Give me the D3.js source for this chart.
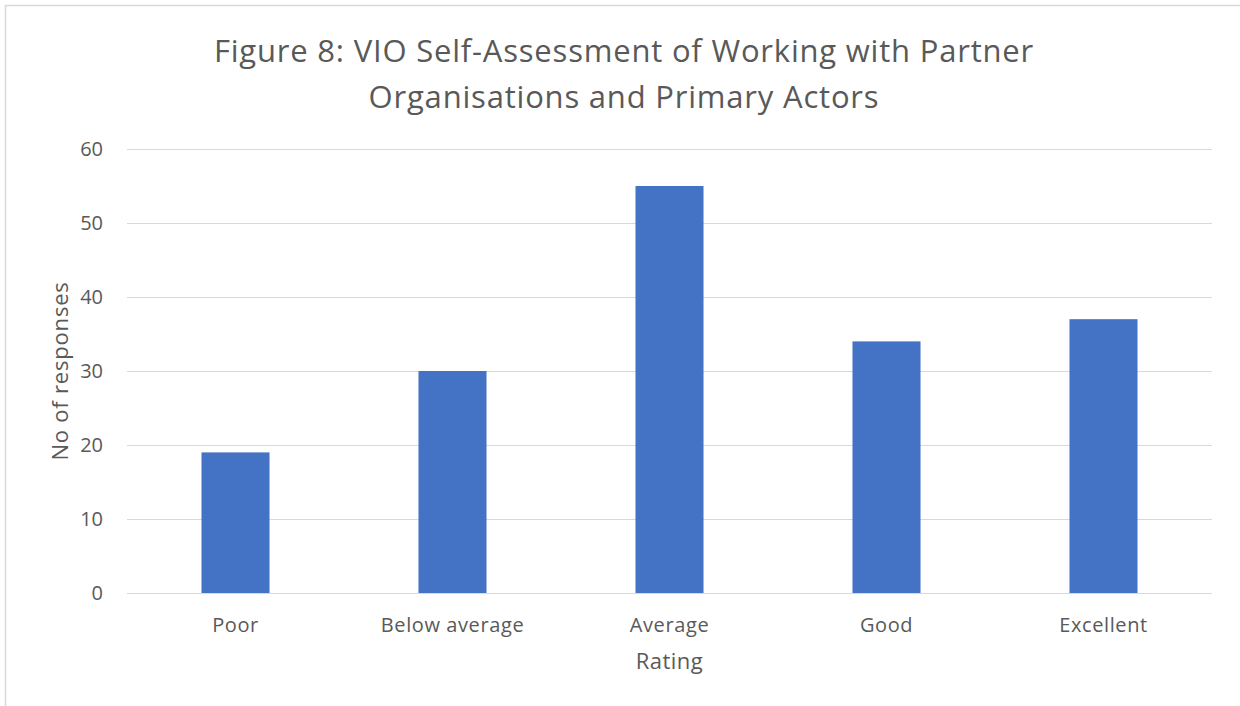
<!DOCTYPE html>
<meta charset="utf-8">
<style>
body { margin: 0; background: #fff; }
text { font-family: "Open Sans", "Noto Sans", sans-serif; fill: #595959; }
.grid line { stroke: #d9d9d9; stroke-width: 1px; }
</style>
<svg width="1240" height="706"></svg>
<script src="https://d3js.org/d3.v7.min.js"></script>
<script>

var titleLines = ["Figure 8: VIO Self-Assessment of Working with Partner",
                  "Organisations and Primary Actors"];
var categories = ["Poor", "Below average", "Average", "Good", "Excellent"];
var responses = [19, 30, 55, 34, 37];
var yTicks = [0, 10, 20, 30, 40, 50, 60];

var svg = d3.select("svg");

var margin = {left: 127, right: 28, top: 149, bottom: 113};
var width = 1240 - margin.left - margin.right,
    height = 706 - margin.top - margin.bottom;

// chart frame (cut off at right and bottom)
svg.append("rect")
    .attr("x", 5.5).attr("y", 5.5)
    .attr("width", 1400).attr("height", 900)
    .attr("fill", "none")
    .attr("stroke", "#d9d9d9")
    .attr("stroke-width", 1.5);

var x = d3.scaleBand()
    .domain(categories)
    .range([0, width])
    .padding(0);

var y = d3.scaleLinear()
    .domain([0, 60])
    .range([height, 0]);

var g = svg.append("g")
    .attr("transform", "translate(" + margin.left + "," + margin.top + ")");

g.append("g")
    .attr("class", "grid")
    .selectAll("line")
    .data(yTicks)
    .enter().append("line")
    .attr("x1", 0)
    .attr("x2", width)
    .attr("y1", function(d) { return Math.round(y(d)) + 0.5; })
    .attr("y2", function(d) { return Math.round(y(d)) + 0.5; });

var barW = x.bandwidth() / 3.19;

g.append("g")
    .selectAll("rect")
    .data(responses)
    .enter().append("rect")
    .attr("x", function(d, i) { return x(categories[i]) + (x.bandwidth() - barW) / 2; })
    .attr("y", function(d) { return y(d); })
    .attr("width", barW)
    .attr("height", function(d) { return y(0) - y(d); })
    .attr("fill", "#4472c4");

var yAxis = d3.axisLeft(y).tickValues(yTicks).tickSize(0).tickPadding(24);
g.append("g")
    .call(yAxis)
    .call(function(a) { a.select(".domain").remove(); })
    .selectAll("text")
    .style("font-size", "20px")
    .attr("fill", "#595959");

var xAxis = d3.axisBottom(x).tickSize(0).tickPadding(25);
g.append("g")
    .attr("transform", "translate(0," + height + ")")
    .call(xAxis)
    .call(function(a) { a.select(".domain").remove(); })
    .selectAll("text")
    .style("font-size", "20px")
    .style("letter-spacing", "0.6px")
    .attr("fill", "#595959");

// axis titles
svg.append("text")
    .attr("x", margin.left + width / 2)
    .attr("y", 669)
    .attr("text-anchor", "middle")
    .style("font-size", "22px")
    .style("letter-spacing", "0.5px")
    .text("Rating");

svg.append("text")
    .attr("transform", "translate(68," + (margin.top + height / 2) + ") rotate(-90)")
    .attr("text-anchor", "middle")
    .style("font-size", "22px")
    .style("letter-spacing", "0.8px")
    .text("No of responses");

svg.append("g")
    .selectAll("text")
    .data(titleLines)
    .enter().append("text")
    .attr("x", 624)
    .attr("y", function(d, i) { return 62 + i * 46; })
    .attr("text-anchor", "middle")
    .style("font-size", "31px")
    .style("letter-spacing", "0.8px")
    .text(function(d) { return d; });

</script>
